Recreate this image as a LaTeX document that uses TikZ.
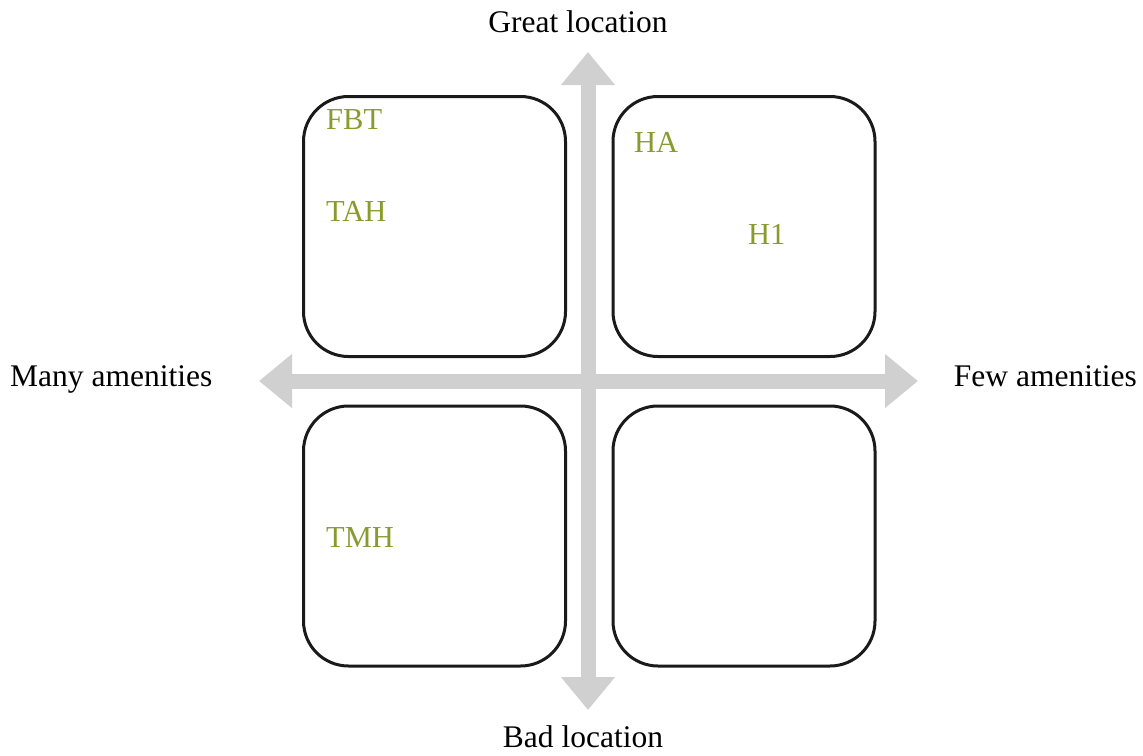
\documentclass[tikz,border=0pt]{standalone}
\usepackage{fontspec}
\setmainfont{Liberation Serif}
\usetikzlibrary{arrows.meta}
\definecolor{axisgray}{RGB}{208,208,208}
\definecolor{labelgreen}{RGB}{138,155,46}
\definecolor{boxline}{RGB}{26,26,26}
\begin{document}
\begin{tikzpicture}[x=1pt,y=-1pt,
  axis/.style={draw=axisgray,line width=15pt,
    {Triangle[width=52pt,length=33pt]}-{Triangle[width=52pt,length=33pt]}},
  quad/.style={draw=boxline,line width=3pt,rounded corners=45pt,
    minimum width=262pt,minimum height=260pt,inner sep=0pt},
  axislabel/.style={font=\fontsize{31.5}{36}\selectfont,text=black,inner sep=0pt},
  hotel/.style={font=\fontsize{30.5}{35}\selectfont,text=labelgreen,inner sep=0pt,anchor=base west}]
\useasboundingbox (0,0) rectangle (1143,755);
% axes
\coordinate (top) at (588,52);
\coordinate (bottom) at (588,710);
\coordinate (left) at (259,381);
\coordinate (right) at (918,381);
\draw[axis] (bottom) -- (top);
\draw[axis] (left) -- (right);
% quadrant boxes
\node[quad] (q1) at (434.5,226.5) {};
\node[quad] (q2) at (744,226.5) {};
\node[quad] (q3) at (434.5,536) {};
\node[quad] (q4) at (744,536) {};
% axis labels
\node[axislabel,anchor=base] (great) at (578,32) {Great location};
\node[axislabel,anchor=base] (bad) at (583,747) {Bad location};
\node[axislabel,anchor=base west] (many) at (10,386) {Many amenities};
\node[axislabel,anchor=base east] (few) at (1137,386) {Few amenities};
% hotels
\node[hotel] (fbt) at (326,129) {FBT};
\node[hotel] (tah) at (326,221) {TAH};
\node[hotel] (ha) at (634,152) {HA};
\node[hotel] (h1) at (748,244) {H1};
\node[hotel] (tmh) at (326,547) {TMH};
\end{tikzpicture}
\end{document}
